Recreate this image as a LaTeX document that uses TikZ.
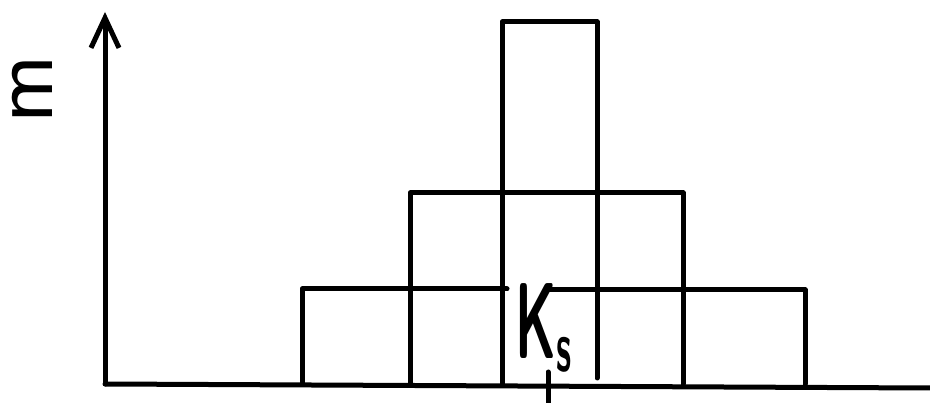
\documentclass[tikz,border=0pt]{standalone}
\usetikzlibrary{arrows.meta}
\begin{document}
\begin{tikzpicture}[x=1pt,y=-1pt, line cap=round, line join=round,
  ink/.style={line width=5pt, black},
  lbl/.style={inner sep=0pt, font=\sffamily}]
\useasboundingbox (0,0) rectangle (930,403);
% axes
\coordinate (O) at (105,384);
\coordinate (Ytip) at (105,12);
\coordinate (Xend) at (930,388);
\draw[ink] (O) -- (Xend);
\draw[ink, -{Straight Barb[length=30pt,width=28pt]}] (O) -- (Ytip);
% bottom row
\draw[ink] (302,384) -- (302,289) -- (507,289);
\draw[ink] (546,290) -- (805,290) -- (805,384);
% middle row
\draw[ink] (410,384) -- (410,193) -- (683,193) -- (683,384);
% top column
\draw[ink] (502,384) -- (502,22) -- (597,22) -- (597,378);
% tick
\coordinate (T1) at (548,372);
\coordinate (T2) at (548,403);
\draw[ink] (T1) -- (T2);
% labels
\node[lbl, rotate=90, font=\sffamily\fontsize{92}{92}\selectfont] (m) at (32,89) {m};
\node[lbl, anchor=base west, xscale=0.5, font=\sffamily\bfseries\fontsize{108}{108}\selectfont] (Ks) at (515,359)
  {K\raisebox{-0.12em}{\fontsize{72}{72}\selectfont s}};
\end{tikzpicture}
\end{document}
